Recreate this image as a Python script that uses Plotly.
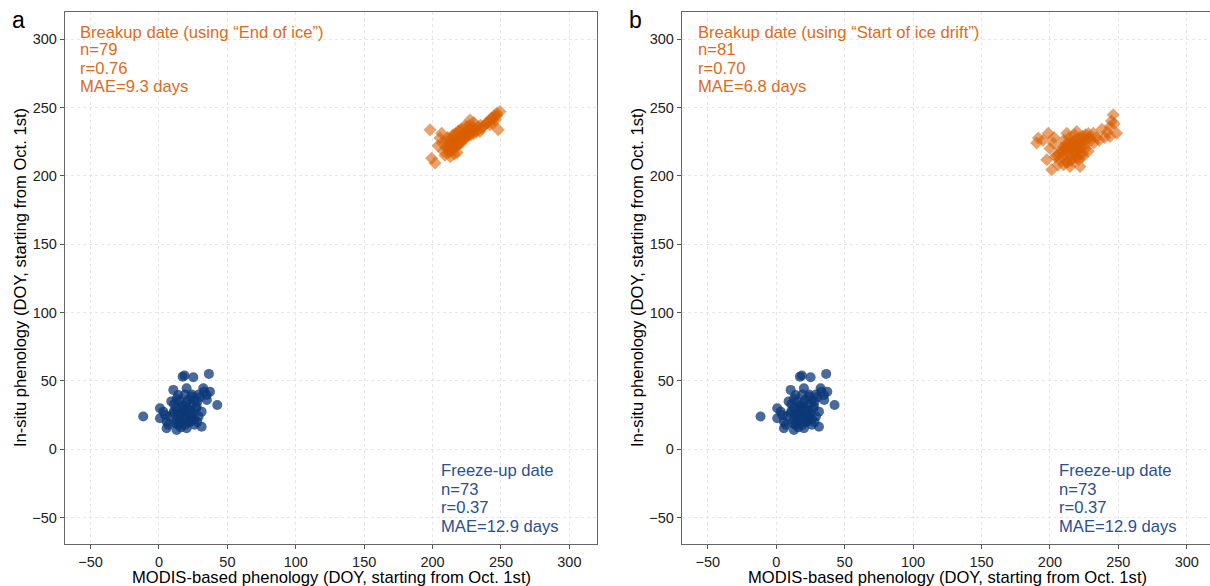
import plotly.graph_objects as go

# ---------------- data ----------------
freeze_x = [
    -11.5, 36.5, 42.6, 17.3, 18.7, 25.1, 10.5, 20.2, 32.4, 37.3,
    14.1, 23.9, 34.9, 0.7, 3.2, 10.5, 17.8, 27.6, 31.2, 5.6,
    12.9, 22.4, 31.2, 5.6, 12.9, 20.2, 4.4, 0.7, 15, 18,
    21, 24, 26, 28, 30, 16, 19, 22, 13, 11,
    9, 14, 17, 20, 23, 25, 27, 29, 15, 18,
    21, 24, 12, 16, 19, 22, 26, 8, 11, 14,
    17, 20, 23, 26, 29, 33, 35, 15, 19, 24,
    7, 28, 13]
freeze_y = [
    23.9, 55.1, 32.4, 53.1, 54, 52.7, 43.4, 44.6, 44.6, 42.1,
    39.7, 38.5, 39.7, 30, 27.5, 26.3, 28.8, 31.2, 27.5, 20.2,
    21.4, 20.2, 16.5, 15.4, 14.1, 15.4, 25.1, 22.7, 25, 27,
    30, 33, 36, 35, 38, 20, 22, 25, 30, 33,
    35, 18, 24, 28, 22, 26, 30, 24, 35, 32,
    36, 40, 19, 16, 18, 20, 22, 24, 28, 26,
    31, 34, 28, 18, 40, 42, 36, 22, 40, 24,
    18, 20, 37]

breakup_end_x = [
    198.1, 199.3, 201.8, 205.4, 206.6, 227.3, 234.6, 246.9, 249.3, 248,
    242, 244.4, 211, 229.5, 216, 213, 215, 217, 219, 221,
    223, 225, 214, 216, 218, 220, 222, 224, 226, 212,
    210, 208, 213, 215, 217, 219, 221, 223, 225, 227,
    229, 231, 233, 235, 237, 239, 241, 243, 245, 246,
    247, 244, 209, 212, 214, 216, 218, 220, 222, 224,
    226, 228, 230, 232, 204, 207, 211, 215, 219, 223,
    221, 218, 216, 213, 210, 227, 230, 236, 240]
breakup_end_y = [
    233.6, 212.9, 209.3, 227.6, 231.2, 240.9, 232.4, 245.8, 247, 233.6,
    237.3, 242.2, 219, 236, 226, 222, 224, 226, 228, 229,
    231, 233, 219, 221, 223, 225, 227, 229, 230, 224,
    221, 218, 227, 229, 231, 233, 234, 236, 236, 234,
    233, 234, 236, 237, 236, 238, 240, 242, 244, 241,
    244, 238, 215, 217, 219, 220, 222, 224, 226, 228,
    229, 230, 231, 232, 222, 224, 228, 230, 232, 228,
    224, 217, 216, 214, 225, 237, 239, 235, 239]

breakup_drift_x = [
    190.3, 191.5, 198.8, 201.3, 197.7, 202.5, 246.3, 243.9, 243.9, 248.8,
    231.7, 219.6, 212.3, 214.7, 222, 207, 209, 211, 213, 215,
    217, 219, 221, 223, 225, 227, 229, 208, 210, 212,
    214, 216, 218, 220, 222, 224, 226, 228, 205, 207,
    209, 211, 213, 215, 217, 219, 221, 223, 225, 212,
    216, 220, 224, 228, 232, 236, 240, 245, 247, 242,
    200, 204, 206, 210, 214, 218, 222, 226, 230, 234,
    215, 218, 221, 224, 210, 213, 216, 219, 195, 203, 238]
breakup_drift_y = [
    223.9, 227.6, 231.2, 204.4, 211.7, 223.9, 244.6, 236, 228.7, 231.2,
    231.2, 232.4, 231.2, 206.8, 206.8, 212, 214, 216, 218, 219,
    220, 222, 224, 225, 226, 227, 228, 220, 221, 223,
    224, 225, 226, 227, 228, 229, 230, 231, 215, 216,
    218, 220, 221, 222, 223, 218, 219, 221, 222, 210,
    212, 214, 216, 218, 224, 226, 228, 240, 238, 232,
    220, 214, 208, 226, 228, 230, 216, 220, 226, 228,
    215, 217, 212, 214, 208, 210, 211, 213, 226, 228, 234]

tick_vals = [-50, 0, 50, 100, 150, 200, 250, 300]
panel_labels = ["a", "b"]
breakup_titles = ["Breakup date (using \u201cEnd of ice\u201d)",
                  "Breakup date (using \u201cStart of ice drift\u201d)"]
breakup_stats = [("n=79", "r=0.76", "MAE=9.3 days"),
                 ("n=81", "r=0.70", "MAE=6.8 days")]
freeze_stats = ("Freeze-up date", "n=73", "r=0.37", "MAE=12.9 days")
x_title = "MODIS-based phenology (DOY, starting from Oct. 1st)"
y_title = "In-situ phenology (DOY, starting from Oct. 1st)"

# ---------------- styling ----------------
W, H = 1210, 586
ML, MR, MT, MB = 65, 0, 12, 42
PW, PH = W - ML - MR, H - MT - MB
FONT = "Arial, Liberation Sans, sans-serif"
BLUE_M = "rgba(12,56,120,0.75)"
ORANGE_M = "rgba(217,95,2,0.58)"
BLUE_T = "#2A5090"
ORANGE_T = "#E06A1A"
TXT = 16.6


def px(xp):
    return (xp - ML) / PW


def py(yp):
    return (H - MB - yp) / PH


fig = go.Figure()

breakups = [(breakup_end_x, breakup_end_y), (breakup_drift_x, breakup_drift_y)]
for i, (bx, by) in enumerate(breakups):
    xa = "x" if i == 0 else "x2"
    ya = "y" if i == 0 else "y2"
    fig.add_trace(go.Scatter(
        x=freeze_x, y=freeze_y, mode="markers", xaxis=xa, yaxis=ya,
        marker=dict(symbol="circle", size=10, color=BLUE_M, line=dict(width=0)),
        showlegend=False, hoverinfo="skip"))
    fig.add_trace(go.Scatter(
        x=bx, y=by, mode="markers", xaxis=xa, yaxis=ya,
        marker=dict(symbol="diamond", size=10, color=ORANGE_M, line=dict(width=0)),
        showlegend=False, hoverinfo="skip"))

axis_common = dict(
    tickvals=tick_vals, showgrid=True, gridcolor="#E6E6E6", griddash="3px,3px",
    gridwidth=1, zeroline=False, showline=True, linecolor="#666666", linewidth=1.4,
    mirror=True, ticks="outside", ticklen=4, tickcolor="#555555", tickwidth=1,
    tickfont=dict(family=FONT, size=14.5, color="#222222"), fixedrange=True)

dom_a = [0, px(597)]
dom_b = [px(682), 1]
fig.update_layout(
    width=W, height=H, margin=dict(l=ML, r=MR, t=MT, b=MB),
    plot_bgcolor="white", paper_bgcolor="white",
    xaxis=dict(domain=dom_a, range=[-68.7, 320.2], anchor="y", **axis_common),
    yaxis=dict(domain=[0, 1], range=[-69.3, 319.8], anchor="x", **axis_common),
    xaxis2=dict(domain=dom_b, range=[-68.9, 317.0], anchor="y2", **axis_common),
    yaxis2=dict(domain=[0, 1], range=[-69.3, 319.8], anchor="x2", **axis_common),
    font=dict(family=FONT),
)

ann = []
panel_mid = [331, 947]
ytitle_x = [20, 637]
letter_x = [18, 635]
orange_x = [78, 696]
blue_x = [439, 1057]
orange_rows = [32, 50, 68, 86]
blue_rows = [471, 489, 507, 526]


def txt(xp, yp, text, size, color, xanchor="left", angle=0):
    return dict(x=px(xp), y=py(yp), xref="paper", yref="paper", text=text,
                showarrow=False, textangle=angle,
                font=dict(family=FONT, size=size, color=color),
                xanchor=xanchor, yanchor="middle")


for i in range(2):
    ann.append(txt(letter_x[i], 20, panel_labels[i], 23, "black", "center"))
    ann.append(txt(panel_mid[i], 577, x_title, TXT, "black", "center"))
    ann.append(txt(ytitle_x[i], 278, y_title, TXT, "black", "center", -90))
    lines = (breakup_titles[i],) + breakup_stats[i]
    for line, yr in zip(lines, orange_rows):
        ann.append(txt(orange_x[i], yr, line, TXT, ORANGE_T))
    for line, yr in zip(freeze_stats, blue_rows):
        ann.append(txt(blue_x[i], yr, line, TXT, BLUE_T))
fig.update_layout(annotations=ann)

fig.write_html("out.html", config={"displayModeBar": False},
               post_script="document.body.style.margin='0';document.body.style.overflow='hidden';")
